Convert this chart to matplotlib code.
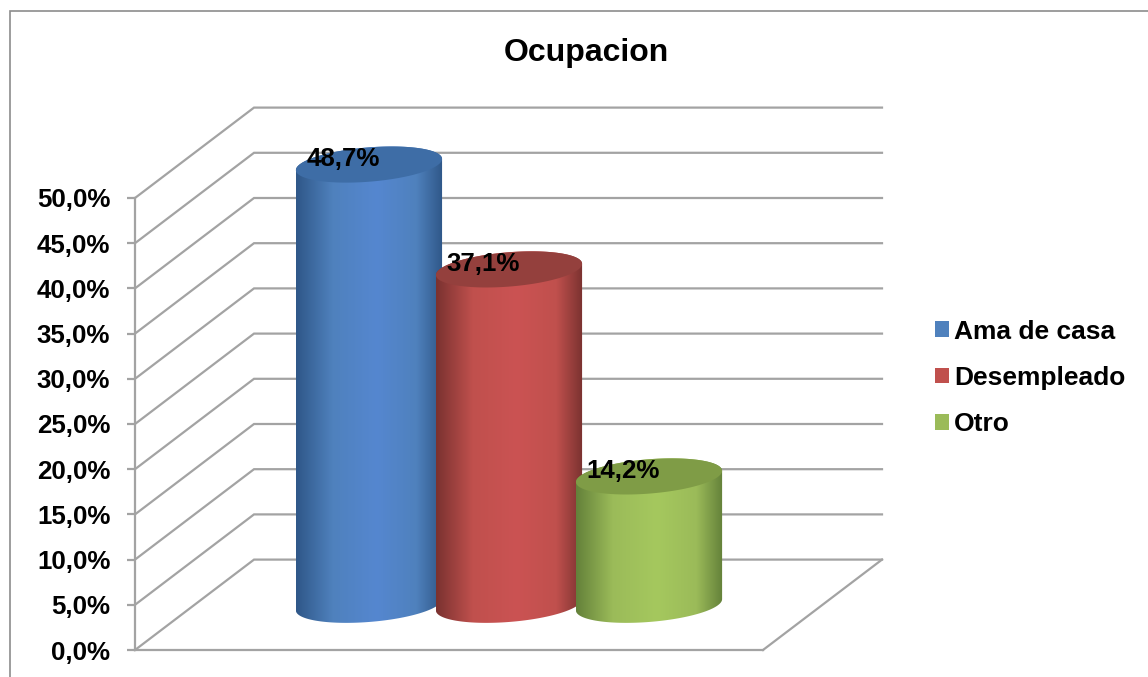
import numpy as np
import matplotlib
matplotlib.use("Agg")
import matplotlib.pyplot as plt
from matplotlib.colors import LinearSegmentedColormap
from matplotlib.lines import Line2D
from matplotlib.patches import Patch, Polygon

categorias = ["Ama de casa", "Desempleado", "Otro"]
valores = [48.7, 37.1, 14.2]
ticks_y = [0, 5, 10, 15, 20, 25, 30, 35, 40, 45, 50]
etiquetas_y = ["0,0%", "5,0%", "10,0%", "15,0%", "20,0%", "25,0%", "30,0%",
               "35,0%", "40,0%", "45,0%", "50,0%"]
etiquetas_valor = ["48,7%", "37,1%", "14,2%"]

colores = ["#4F81BD", "#C0504D", "#9BBB59"]
oscuros = ["#2F5788", "#7A3230", "#64813A"]
claros = ["#5587D0", "#CB5353", "#A5C85E"]
tapas = ["#3E6DA6", "#94403D", "#7F9C46"]

GRIS = "#A3A3A3"
ANCHO, ALTO = 1148, 677

# profundidad del suelo 3D, en unidades de los ejes
PROF_X = 0.85
PROF_Y = 10
BASE = 5
RADIO = 0.522
ELIPSE_B = 1.9
ELIPSE_K = 0.62

plt.rcParams["font.family"] = ["Liberation Sans", "DejaVu Sans"]
plt.rcParams["font.weight"] = "bold"

fig = plt.figure(figsize=(ANCHO / 100, ALTO / 100), dpi=100)
izq, der, abajo, arriba = 135, 882, 650, 108.5
ax = fig.add_axes([izq / ANCHO, 1 - abajo / ALTO, (der - izq) / ANCHO, (abajo - arriba) / ALTO])
ax.set_xlim(-1.671, 3.664)
ax.set_ylim(0, 59.9)
x0, x1 = ax.get_xlim()

for lado in ["top", "right"]:
    ax.spines[lado].set_visible(False)
ax.spines["left"].set_bounds(0, 50)
ax.spines["bottom"].set_bounds(x0, x1 - PROF_X)
for lado in ["left", "bottom"]:
    ax.spines[lado].set_color(GRIS)
    ax.spines[lado].set_linewidth(1.6)
ax.set_xticks([])
ax.set_yticks(ticks_y)
ax.set_yticklabels(etiquetas_y, fontsize=18.6, fontweight="bold", va="center_baseline")
ax.tick_params(axis="y", length=5.8, width=1.6, color=GRIS, pad=12)

# rejilla: diagonal en la pared lateral y horizontal en la del fondo
for v in ticks_y:
    ax.plot([x0, x0 + PROF_X, x1], [v, v + PROF_Y, v + PROF_Y], color=GRIS, lw=1.6,
            zorder=1, clip_on=False, solid_joinstyle="miter")
ax.plot([x1 - PROF_X, x1], [0, PROF_Y], color=GRIS, lw=1.6, zorder=1, clip_on=False)


def elipse(cx, cy, t):
    return cx + RADIO * np.cos(t), cy + ELIPSE_K * np.cos(t) + ELIPSE_B * np.sin(t)


t_abajo = np.linspace(np.pi, 2 * np.pi, 80)
t_arriba = np.linspace(0, np.pi, 80)
t_todo = np.linspace(0, 2 * np.pi, 160)

for i, v in enumerate(valores):
    z = 2 + i
    cima = BASE + v
    # cuerpo del cilindro: arco inferior de la base y arco superior de la tapa
    xb, yb = elipse(i, BASE, t_abajo)
    xt, yt = elipse(i, cima, t_arriba)
    cuerpo = Polygon(np.column_stack([np.r_[xb, xt], np.r_[yb, yt]]), closed=True,
                     facecolor="none", edgecolor="none", zorder=z)
    ax.add_patch(cuerpo)
    cmap = LinearSegmentedColormap.from_list(
        "c", [(0, oscuros[i]), (0.25, colores[i]), (0.55, claros[i]),
              (0.82, colores[i]), (1, oscuros[i])])
    im = ax.imshow(np.linspace(0, 1, 256).reshape(1, -1), cmap=cmap, aspect="auto",
                   extent=[i - RADIO, i + RADIO, 0, cima + 3], zorder=z)
    im.set_clip_path(cuerpo)

    xe, ye = elipse(i, cima, t_todo)
    ax.fill(xe, ye, color=tapas[i], lw=0, zorder=z)

ax.set_xlim(x0, x1)
ax.set_ylim(0, 59.9)

for i, v in enumerate(valores):
    ax.text(i - 0.186, v + BASE + 0.65, etiquetas_valor[i], ha="center", va="center",
            fontsize=18.6, fontweight="bold", color="black", zorder=10)

handles = [Patch(facecolor=c, edgecolor="none", label=n) for c, n in zip(colores, categorias)]
fig.legend(handles=handles, loc="center left", bbox_to_anchor=(935 / ANCHO, 1 - 378 / ALTO),
           frameon=False, fontsize=19, handlelength=0.53, handleheight=0.53,
           handletextpad=0.2, labelspacing=0.85, borderpad=0, borderaxespad=0)

fig.text(586 / ANCHO, 1 - 53 / ALTO, "Ocupacion", ha="center", va="center",
         fontsize=23, fontweight="bold")

# marco exterior del grafico
fig.add_artist(Line2D([10 / ANCHO, 10 / ANCHO, 1], [0, 1 - 11 / ALTO, 1 - 11 / ALTO],
                      color="#8C8C8C", lw=1.2, solid_joinstyle="miter"))

fig.savefig("out.png", dpi=100, facecolor="white")
